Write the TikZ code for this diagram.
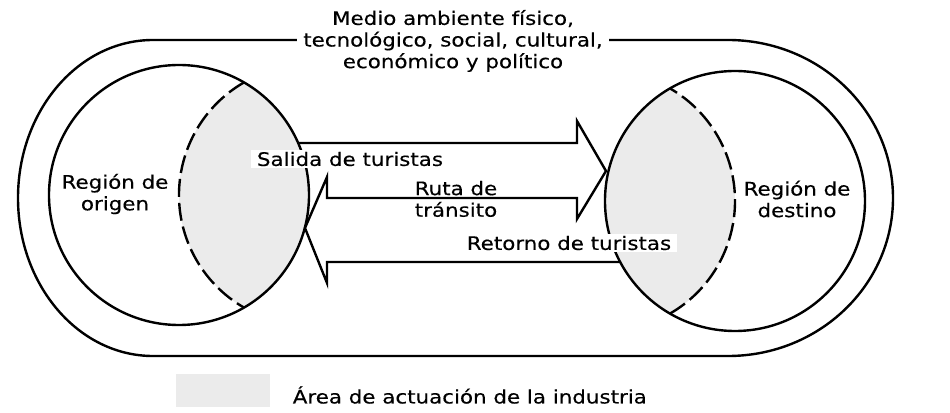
\documentclass[tikz,border=0pt]{standalone}
\usepackage{fontspec}
\setmainfont{DejaVu Sans}[FakeStretch=1.15, FakeBold=0.3]
\usetikzlibrary{positioning}

\begin{document}
\begin{tikzpicture}[
    x=0.5pt, y=0.5pt,
    borde/.style={line width=1.2pt},
    guiones/.style={line width=1.2pt, dash pattern=on 9pt off 3pt},
    lente/.style={fill=black!8},
    texto/.style={font=\fontsize{9.3pt}{10.8pt}\selectfont, align=center, inner sep=1pt},
    tapa/.style={texto, fill=white, inner xsep=3pt}
]

\useasboundingbox (0,0) rectangle (950,413);

\coordinate (origen) at (179,218);
\coordinate (destino) at (735,212);

% area de actuacion de la industria
\begin{scope}
  \clip (origen) circle[radius=130];
  \fill[lente] ([xshift=65pt]origen) circle[radius=130];
\end{scope}
\begin{scope}
  \clip (destino) circle[radius=130];
  \fill[lente] ([xshift=-65pt]destino) circle[radius=130];
\end{scope}

% medio ambiente
\draw[borde] (153,373) -- (728,373)
  arc[start angle=90, end angle=-90, x radius=165, y radius=158]
  -- (153,57) arc[start angle=270, end angle=90, x radius=135, y radius=158] -- cycle;

% regiones
\draw[borde] (origen) circle[radius=130];
\draw[borde] (destino) circle[radius=130];
\draw[guiones] ([xshift=65pt]origen) ++(120:130) arc[start angle=120, end angle=240, radius=130];
\draw[guiones] ([xshift=-65pt]destino) ++(-60:130) arc[start angle=-60, end angle=60, radius=130];

% flechas de ida y vuelta
\draw[borde, line join=miter] (298,270) -- (577,270) -- (577,292) -- (606,242) -- (577,194)
  -- (577,215) -- (327,215) -- (327,236) -- (305,185) -- (327,130) -- (327,151) -- (620,151);

% textos
\node (medio) [tapa] at (453,372) {Medio ambiente físico,\\tecnológico, social, cultural,\\económico y político};
\node (salida) [tapa] at (350,254) {Salida de turistas};
\node (retorno) [tapa] at (569,170) {Retorno de turistas};
\node (ruta) [texto] at (456,214) {Ruta de\\tránsito};
\node (rorigen) [texto] at (115,219) {Región de\\origen};
\node (rdestino) [texto] at (797,214) {Región de\\destino};

% leyenda
\node (muestra) [lente, minimum width=47pt, minimum height=16.5pt, inner sep=0pt] at (223,22) {};
\node (industria) [texto, right=10pt of muestra, yshift=-2pt] {Área de actuación de la industria};

\end{tikzpicture}
\end{document}
